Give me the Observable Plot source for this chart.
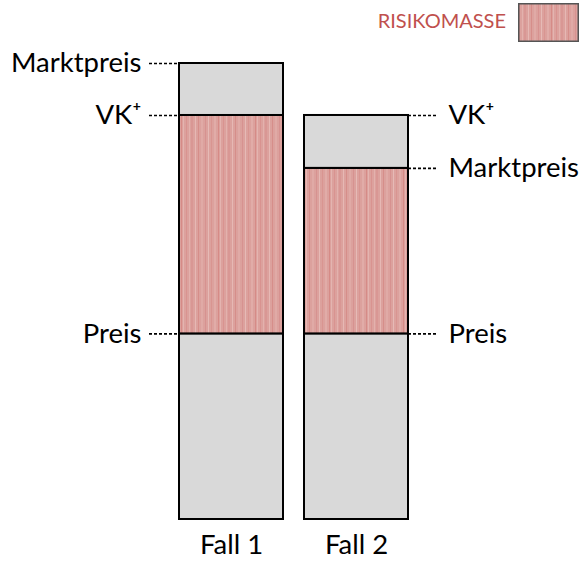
<!DOCTYPE html>
<html>
<head>
<meta charset="utf-8">
<script src="https://cdn.jsdelivr.net/npm/d3@7"></script>
<script src="https://cdn.jsdelivr.net/npm/@observablehq/plot@0.6"></script>
<style>
  html, body { margin: 0; padding: 0; background: #fff; }
  #wrap { position: relative; width: 580px; height: 562px; font-family: Lato, "Open Sans", sans-serif; }
  #legend { position: absolute; left: 0; top: 0; width: 580px; height: 45px; }
  #legend .lbl { position: absolute; right: 74px; top: 7px; font-size: 20px; color: #c0504d; line-height: 26px; }
  #legend svg { position: absolute; left: 518px; top: 3px; }
</style>
</head>
<body>
<svg width="0" height="0" style="position:absolute">
  <defs>
    <pattern id="risk" patternUnits="userSpaceOnUse" width="37" height="10">
      <rect width="37" height="10" fill="#dca19d"/>
      <rect x="1" width="1" height="10" fill="#d99390"/>
      <rect x="4" width="1" height="10" fill="#e3b1ad"/>
      <rect x="6" width="2" height="10" fill="#d99794"/>
      <rect x="10" width="1" height="10" fill="#e6b8b4"/>
      <rect x="13" width="1" height="10" fill="#d68e8a"/>
      <rect x="16" width="2" height="10" fill="#e0aaa6"/>
      <rect x="20" width="1" height="10" fill="#d79290"/>
      <rect x="23" width="1" height="10" fill="#e6bab6"/>
      <rect x="26" width="1" height="10" fill="#d99591"/>
      <rect x="29" width="2" height="10" fill="#e1aca8"/>
      <rect x="33" width="1" height="10" fill="#d68b87"/>
      <rect x="35" width="1" height="10" fill="#e4b4b0"/>
    </pattern>
  </defs>
</svg>
<div id="wrap">
  <div id="legend">
    <span class="lbl">RISIKOMASSE</span>
    <svg width="61" height="39"><rect x="0.75" y="0.75" width="59.5" height="37.5" fill="url(#risk)" stroke="#555" stroke-width="1.5"/></svg>
  </div>
</div>
<script>
// Data
const cases = ["Fall 1", "Fall 2"];
const preis = [4.07, 4.07];
const vkPlus = [8.86, 8.86];
const marktpreis = [10, 7.7];
const labelSide = ["left", "right"];

// Segments
const segments = [];
cases.forEach((c, i) => {
  const lo = Math.min(vkPlus[i], marktpreis[i]);
  const hi = Math.max(vkPlus[i], marktpreis[i]);
  segments.push({case: c, y1: 0, y2: preis[i], kind: "base"});
  segments.push({case: c, y1: preis[i], y2: lo, kind: "risk"});
  segments.push({case: c, y1: lo, y2: hi, kind: "top"});
});

const labels = [];
cases.forEach((c, i) => {
  labels.push({case: c, y: marktpreis[i], text: "Marktpreis", side: labelSide[i]});
  labels.push({case: c, y: vkPlus[i], text: "VK\u207A", side: labelSide[i]});
  labels.push({case: c, y: preis[i], text: "Preis", side: labelSide[i]});
});
const left = labels.filter(d => d.side === "left");
const right = labels.filter(d => d.side === "right");

const chart = Plot.plot({
  width: 580,
  height: 562,
  marginTop: 63,
  marginBottom: 43,
  marginLeft: 179,
  marginRight: 172,
  style: {fontFamily: "Lato, 'Open Sans', sans-serif", background: "transparent"},
  x: {type: "band", domain: cases, paddingInner: 0.168, paddingOuter: 0, axis: null},
  y: {domain: [0, 10], axis: null},
  marks: [
    Plot.barY(segments, {
      x: "case", y1: "y1", y2: "y2",
      fill: d => d.kind === "risk" ? "url(#risk)" : "#d9d9d9",
      stroke: "#000", strokeWidth: 2
    }),
    Plot.tickY(left, {x: "case", y: "y", insetRight: 74, dx: -30, stroke: "#000", strokeWidth: 1.6, strokeDasharray: "3,2"}),
    Plot.tickY(right, {x: "case", y: "y", insetRight: 75, dx: 104, stroke: "#000", strokeWidth: 1.6, strokeDasharray: "3,2"}),
    Plot.text(left, {x: "case", y: "y", text: "text", textAnchor: "end", dx: -90, fontSize: 27.5, fill: "#000"}),
    Plot.text(right, {x: "case", y: "y", text: "text", textAnchor: "start", dx: 92, fontSize: 27.5, fill: "#000"}),
    Plot.text(cases, {x: d => d, text: d => d, frameAnchor: "bottom", dy: 34, fontSize: 27.5, fill: "#000"})
  ]
});
document.getElementById("wrap").appendChild(chart);
chart.style.position = "absolute";
chart.style.left = "0";
chart.style.top = "0";
</script>
</body>
</html>
